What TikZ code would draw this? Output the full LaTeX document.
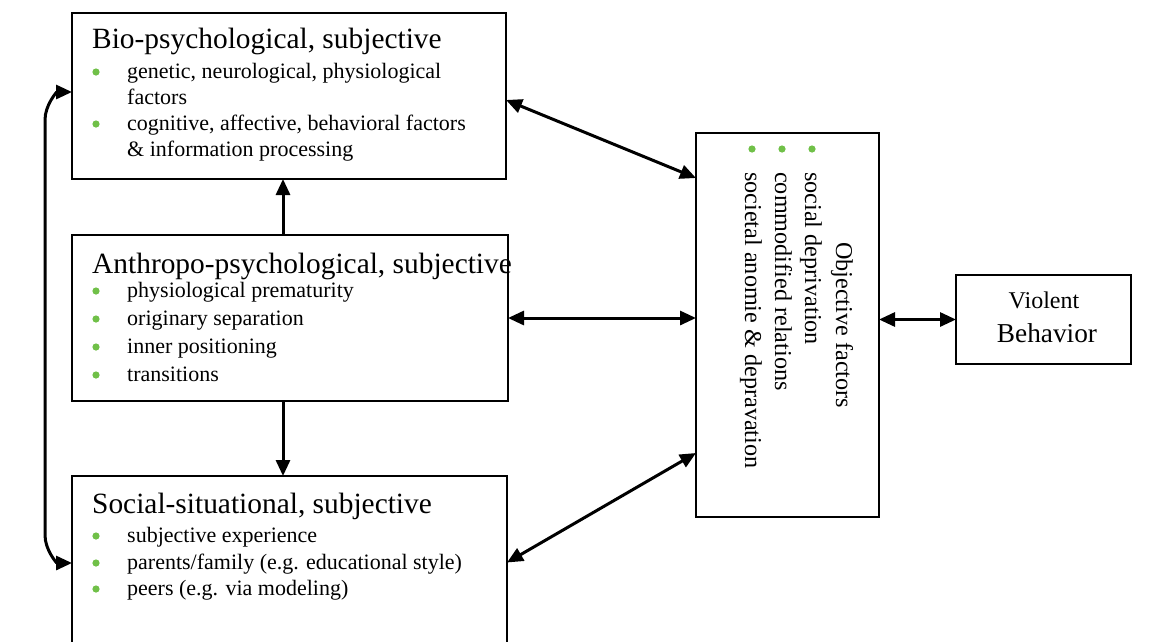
\documentclass[tikz,border=0pt]{standalone}
\usepackage{fontspec}
\setmainfont{Liberation Serif}
\usetikzlibrary{arrows.meta}
\definecolor{bulgreen}{RGB}{112,192,72}
\begin{document}
\begin{tikzpicture}[x=1pt,y=-1pt,
  box/.style={draw=black,line width=2.6pt,fill=white,inner sep=0pt,outer sep=0pt,anchor=north west},
  ttl/.style={anchor=base west,inner sep=0pt,font=\fontsize{29.4}{33}\selectfont},
  itm/.style={anchor=base west,inner sep=0pt,font=\fontsize{22}{26}\selectfont},
  rit/.style={anchor=base west,inner sep=0pt,rotate=-90,font=\fontsize{24.2}{28}\selectfont},
  con/.style={line width=3pt,{Triangle[length=16pt,width=14pt]}-{Triangle[length=16pt,width=14pt]}},
  one/.style={line width=3pt,-{Triangle[length=16pt,width=14pt]}},
  bul/.style={fill=bulgreen}]
\useasboundingbox (0,0) rectangle (1162,641);
% boxes
\node[box,minimum width=434pt,minimum height=166pt] (bio) at (72,13) {};
\node[box,minimum width=436pt,minimum height=166pt] (anth) at (72,235) {};
\node[box,minimum width=435pt,minimum height=170pt] (soc) at (72,476) {};
\node[box,minimum width=183pt,minimum height=384pt] (obj) at (696,133) {};
\node[box,minimum width=175pt,minimum height=89pt] (viol) at (956,275) {};
% bio text
\node[ttl] (bioT) at (92,48) {Bio-psychological, subjective};
\node[itm] (bioA) at (127,78) {genetic, neurological, physiological};
\node[itm] (bioB) at (127,104) {factors};
\node[itm] (bioC) at (127,130) {cognitive, affective, behavioral factors};
\node[itm] (bioD) at (127,156) {\& information processing};
\fill[bul] (96,72) circle (3.6);
\fill[bul] (96,124) circle (3.6);
% anthro text
\node[ttl] (anT) at (92,273) {Anthropo-psychological, subjective};
\node[itm] (anA) at (127,297) {physiological prematurity};
\node[itm] (anB) at (127,325) {originary separation};
\node[itm] (anC) at (127,353) {inner positioning};
\node[itm] (anD) at (127,381) {transitions};
\foreach \yy in {291,319,347,375} \fill[bul] (96,\yy) circle (3.6);
% social text
\node[ttl] (soT) at (92,513) {Social-situational, subjective};
\node[itm] (soA) at (127,542) {subjective experience};
\node[itm] (soB) at (127,569) {parents/family (e.g. educational style)};
\node[itm] (soC) at (127,595) {peers (e.g. via modeling)};
\foreach \yy in {536,563,589} \fill[bul] (96,\yy) circle (3.6);
% objective text
\node[rit] (obT) at (836,242) {Objective factors};
\node[rit] (obA) at (805,172) {social deprivation};
\node[rit] (obB) at (775,172) {commodified relations};
\node[rit] (obC) at (745,172) {societal anomie \& depravation};
\foreach \xx in {812,782,752} \fill[bul] (\xx,149) circle (3.6);
% violent text
\node[anchor=base,inner sep=0pt,font=\fontsize{24}{28}\selectfont] (vA) at (1044,308) {Violent};
\node[anchor=base,inner sep=0pt,font=\fontsize{27.3}{31}\selectfont] (vB) at (1047,342) {Behavior};
% connectors
\draw[one] ([xshift=-7pt]anth.north) -- ([xshift=-7pt]anth.north |- bio.south);
\draw[one] ([xshift=-7pt]anth.south) -- ([xshift=-7pt]anth.south |- soc.north);
\draw[con] ([yshift=-4pt]bio.east) -- ([yshift=147pt]obj.west);
\draw[con] (anth.east) -- (anth.east -| obj.west);
\draw[con] ([yshift=-1.5pt]soc.east) -- ([yshift=-128pt]obj.west);
\draw[con] (obj.east |- viol.west) -- (viol.west);
\draw[con] ([yshift=4pt]bio.west) to[out=180,in=90] ++(-27,28) -- ++(0,415) to[out=-90,in=180] ([yshift=-2pt]soc.west);
\end{tikzpicture}
\end{document}
